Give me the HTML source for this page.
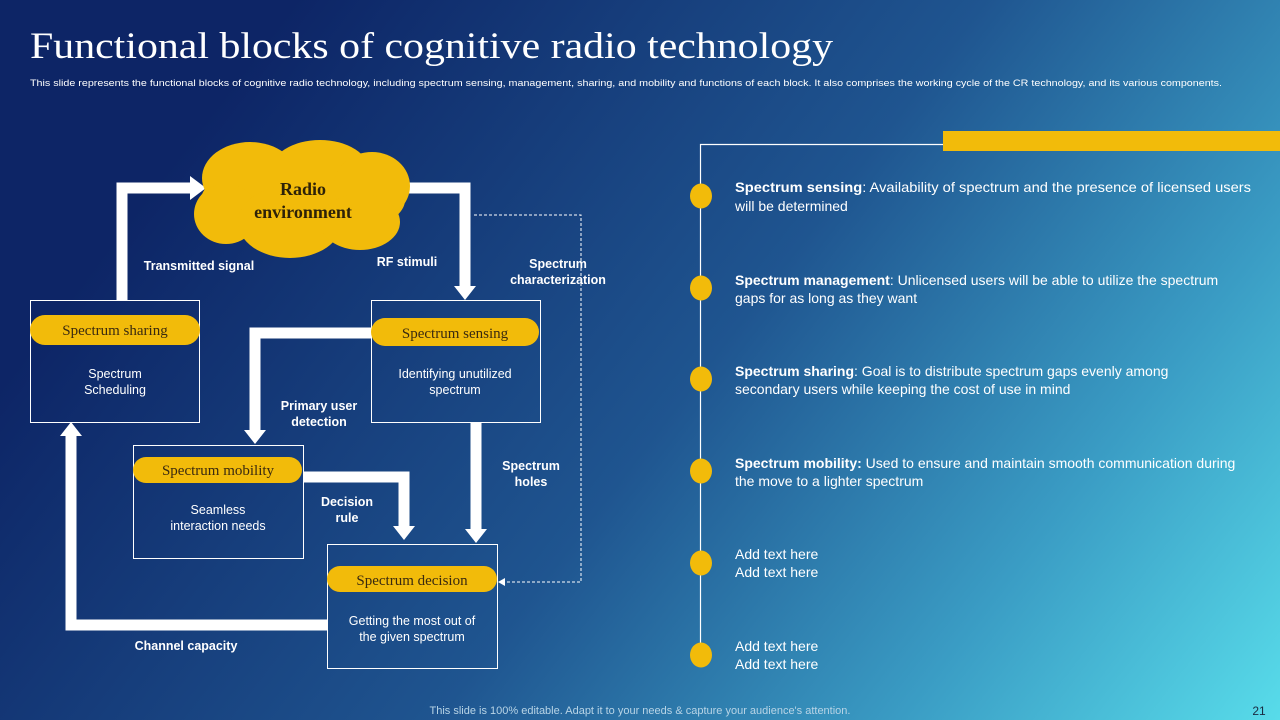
<!DOCTYPE html>
<html><head><meta charset="utf-8"><style>
html,body{margin:0;padding:0;width:1280px;height:720px;overflow:hidden}
svg{display:block}
.s{font-family:"Liberation Sans",sans-serif}
.sf{font-family:"Liberation Serif",serif}
</style></head><body>
<svg width="1280" height="720" viewBox="0 0 1280 720" xmlns="http://www.w3.org/2000/svg">
<defs>
<linearGradient id="bg" gradientUnits="userSpaceOnUse" x1="250" y1="60" x2="1220" y2="800">
<stop offset="0" stop-color="#0d2566"/>
<stop offset="0.45" stop-color="#1f5590"/>
<stop offset="0.75" stop-color="#3a9cc4"/>
<stop offset="1" stop-color="#58dcea"/>
</linearGradient>
</defs>
<rect width="1280" height="720" fill="url(#bg)"/>
<text x="30" y="58" class="sf" font-size="37" fill="#fff" textLength="803" lengthAdjust="spacingAndGlyphs">Functional blocks of cognitive radio technology</text>
<text x="30" y="86" class="s" font-size="9.5" fill="#fff" textLength="1192" lengthAdjust="spacingAndGlyphs">This slide represents the functional blocks of cognitive radio technology, including spectrum sensing, management, sharing, and mobility and functions of each block. It also comprises the working cycle of the CR technology, and its various components.</text>

<g fill="none" stroke="#fff" stroke-width="11">
<polyline points="122,300 122,188 192,188"/>
<polyline points="405,188 465,188 465,288"/>
<polyline points="371,333 255,333 255,432"/>
<polyline points="303,477 404,477 404,528"/>
<polyline points="476,422 476,531"/>
<polyline points="327,625 71,625 71,436"/>
</g>
<g fill="#fff">
<polygon points="190,176 206,188 190,200"/>
<polygon points="454,286 476,286 465,300"/>
<polygon points="244,430 266,430 255,444"/>
<polygon points="393,526 415,526 404,540"/>
<polygon points="465,529 487,529 476,543"/>
<polygon points="60,436 82,436 71,422"/>
</g>
<polyline points="474,215 581,215 581,582 503,582" fill="none" stroke="#fff" stroke-width="1" stroke-dasharray="3,2"/>
<polygon points="498,582 505,578 505,586" fill="#fff"/>

<!-- cloud -->
<g fill="#f2bb0a">
<ellipse cx="303" cy="200" rx="102" ry="40"/>
<ellipse cx="250" cy="178" rx="48" ry="36"/>
<ellipse cx="320" cy="172" rx="50" ry="32"/>
<ellipse cx="372" cy="186" rx="38" ry="34"/>
<ellipse cx="226" cy="214" rx="32" ry="30"/>
<ellipse cx="290" cy="222" rx="52" ry="36"/>
<ellipse cx="360" cy="222" rx="40" ry="28"/>
</g>
<text x="303" y="195" class="sf" font-size="18" font-weight="bold" fill="#2e2208" text-anchor="middle">Radio</text>
<text x="303" y="218" class="sf" font-size="18" font-weight="bold" fill="#2e2208" text-anchor="middle">environment</text>

<g fill="none" stroke="#fff" stroke-width="1">
<rect x="30.5" y="300.5" width="169" height="122"/>
<rect x="371.5" y="300.5" width="169" height="122"/>
<rect x="133.5" y="445.5" width="170" height="113"/>
<rect x="327.5" y="544.5" width="170" height="124"/>
</g>
<g fill="#f2bb0a">
<rect x="30" y="315" width="170" height="30" rx="15"/>
<rect x="371" y="318" width="168" height="28" rx="14"/>
<rect x="133" y="457" width="169" height="26" rx="13"/>
<rect x="327" y="566" width="170" height="26" rx="13"/>
</g>
<g class="sf" font-size="15" fill="#3a2a10" text-anchor="middle">
<text x="115" y="335">Spectrum sharing</text>
<text x="455" y="338">Spectrum sensing</text>
<text x="218" y="475">Spectrum mobility</text>
<text x="412" y="585">Spectrum decision</text>
</g>
<g class="s" font-size="12.5" fill="#fff" text-anchor="middle">
<text x="115" y="378">Spectrum</text>
<text x="115" y="394">Scheduling</text>
<text x="455" y="378">Identifying unutilized</text>
<text x="455" y="394">spectrum</text>
<text x="218" y="514">Seamless</text>
<text x="218" y="530">interaction needs</text>
<text x="412" y="625">Getting the most out of</text>
<text x="412" y="641">the given spectrum</text>
</g>
<g class="s" font-size="12.5" font-weight="bold" fill="#fff" text-anchor="middle">
<text x="199" y="270">Transmitted signal</text>
<text x="407" y="266">RF stimuli</text>
<text x="558" y="268">Spectrum</text>
<text x="558" y="284">characterization</text>
<text x="319" y="410">Primary user</text>
<text x="319" y="426">detection</text>
<text x="531" y="470">Spectrum</text>
<text x="531" y="486">holes</text>
<text x="347" y="506">Decision</text>
<text x="347" y="522">rule</text>
<text x="186" y="650">Channel capacity</text>
</g>

<polyline points="943,144.5 700.5,144.5 700.5,655" fill="none" stroke="#fff" stroke-width="1.2"/>
<rect x="943" y="131" width="337" height="20" fill="#f2bb0a"/>
<g fill="#f2bb0a">
<ellipse cx="701" cy="196" rx="11" ry="12.5"/>
<ellipse cx="701" cy="288" rx="11" ry="12.5"/>
<ellipse cx="701" cy="379" rx="11" ry="12.5"/>
<ellipse cx="701" cy="471" rx="11" ry="12.5"/>
<ellipse cx="701" cy="563" rx="11" ry="12.5"/>
<ellipse cx="701" cy="655" rx="11" ry="12.5"/>
</g>
<g class="s" font-size="14" fill="#fff">
<text x="735" y="192" textLength="516" lengthAdjust="spacingAndGlyphs"><tspan font-weight="bold">Spectrum sensing</tspan>: Availability of spectrum and the presence of licensed users</text>
<text x="735" y="211">will be determined</text>
<text x="735" y="285"><tspan font-weight="bold">Spectrum management</tspan>: Unlicensed users will be able to utilize the spectrum</text>
<text x="735" y="303">gaps for as long as they want</text>
<text x="735" y="376"><tspan font-weight="bold">Spectrum sharing</tspan>: Goal is to distribute spectrum gaps evenly among</text>
<text x="735" y="394">secondary users while keeping the cost of use in mind</text>
<text x="735" y="468"><tspan font-weight="bold">Spectrum mobility:</tspan> Used to ensure and maintain smooth communication during</text>
<text x="735" y="486">the move to a lighter spectrum</text>
<text x="735" y="559">Add text here</text>
<text x="735" y="577">Add text here</text>
<text x="735" y="651">Add text here</text>
<text x="735" y="669">Add text here</text>
</g>
<text x="640" y="714" class="s" font-size="11" fill="#b8d4e6" text-anchor="middle">This slide is 100% editable. Adapt it to your needs &amp; capture your audience's attention.</text>
<text x="1259" y="715" class="s" font-size="12" fill="#1a2a40" text-anchor="middle">21</text>
</svg>
</body></html>
